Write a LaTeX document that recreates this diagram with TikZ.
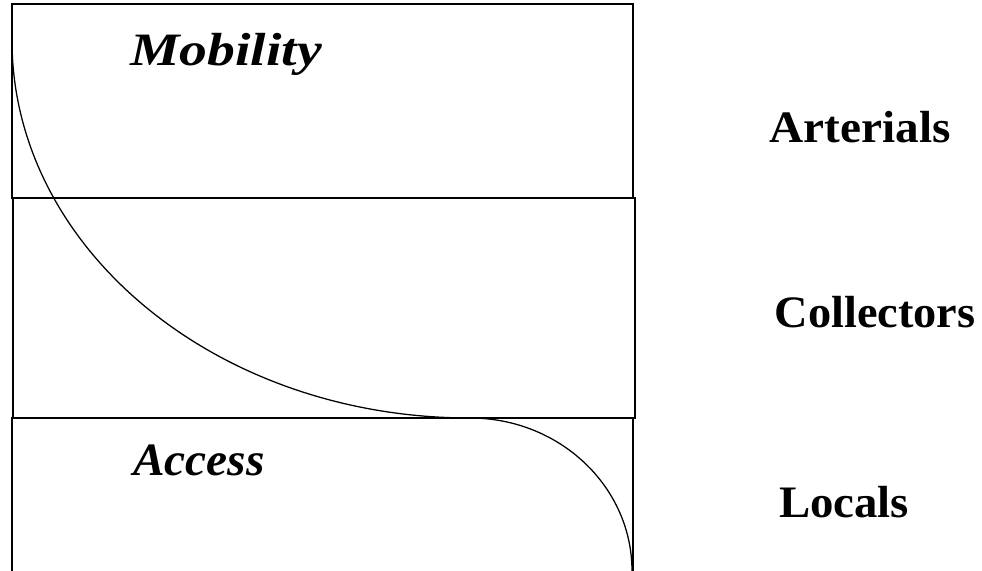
\documentclass[tikz,border=0pt]{standalone}
\usepackage{fontspec}
\setmainfont{Liberation Serif}
\usepackage{graphicx}
\usepackage{xcolor}
\definecolor{lineInk}{HTML}{000000}
\usetikzlibrary{positioning, calc}

\tikzset{
    band/.style={draw=lineInk, line width=1.4pt},
    trend/.style={draw=lineInk, line width=0.9pt},
    classlabel/.style={anchor=base, font=\fontsize{32}{36}\selectfont\bfseries},
    rolelabel/.style={anchor=base, font=\fontsize{33}{36}\selectfont\bfseries\itshape}
}

\begin{document}
\begin{tikzpicture}[x=0.025cm, y=-0.025cm]
    % Page frame in pixel units of the reference.
    \clip (0,0) rectangle (982,571);

    % --- Three stacked bands ---
    \draw[band] (12,4)   rectangle (633,198);
    \draw[band] (13,198) rectangle (635,418);
    \draw[band] (12,418) rectangle (633,580);

    % --- Mobility / access trade-off curve ---
    \draw[trend] (12,40) .. controls (12,249) and (217,418) .. (470,418)
                         .. controls (560,418) and (632,487) .. (632,571);

    % --- Labels inside the bands ---
    \node[rolelabel] (mobility) at (226,66) {\scalebox{1.2}[1]{Mobility}};
    \node[rolelabel] (access)   at (199,475) {\scalebox{1.02}[1]{Access}};

    % --- Functional classes on the right ---
    \node[classlabel] (arterials)  at (860,143) {\scalebox{1.05}[1]{Arterials}};
    \node[classlabel] (collectors) at (875,327) {\scalebox{1.03}[1]{Collectors}};
    \node[classlabel] (locals)     at (844,517) {\scalebox{1.04}[1]{Locals}};
\end{tikzpicture}
\end{document}
